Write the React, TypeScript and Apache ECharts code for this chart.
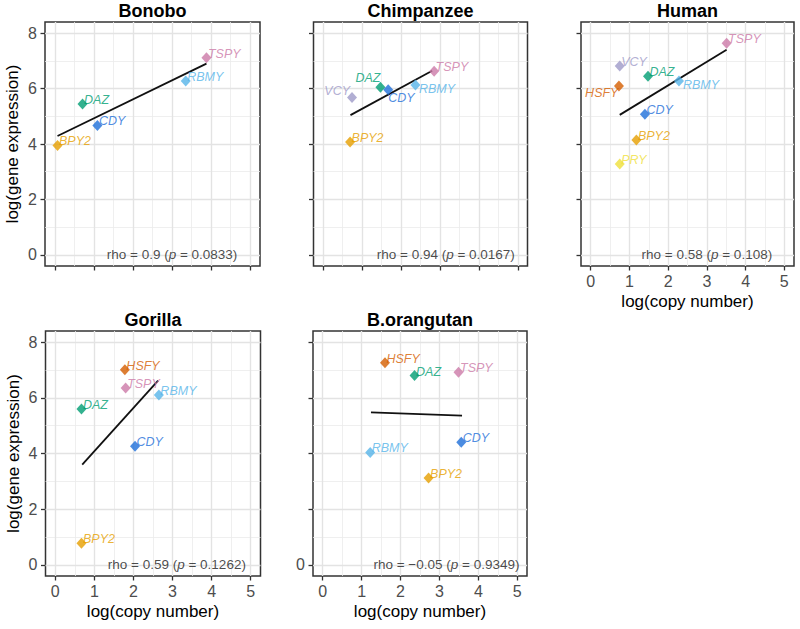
import React, { useEffect, useRef } from "react";
import * as echarts from "echarts";

// ---------- data ----------
const panelNames = ["Bonobo", "Chimpanzee", "Human", "Gorilla", "B.orangutan"];

const bonoboGenes = ["TSPY", "RBMY", "DAZ", "CDY", "BPY2"];
const bonoboCopy = [3.88, 3.35, 0.71, 1.09, 0.07];
const bonoboExpr = [7.11, 6.27, 5.44, 4.67, 3.95];
const bonoboFitX = [0.07, 3.88];
const bonoboFitY = [4.29, 6.9];

const chimpGenes = ["TSPY", "RBMY", "DAZ", "CDY", "VCY", "BPY2"];
const chimpCopy = [2.85, 2.37, 1.47, 1.67, 0.74, 0.69];
const chimpExpr = [6.62, 6.13, 6.05, 5.96, 5.68, 4.07];
const chimpFitX = [0.7, 2.8];
const chimpFitY = [5.04, 6.64];

const humanGenes = ["TSPY", "VCY", "DAZ", "RBMY", "HSFY", "CDY", "BPY2", "PRY"];
const humanCopy = [3.51, 0.75, 1.48, 2.28, 0.73, 1.4, 1.18, 0.75];
const humanExpr = [7.63, 6.81, 6.44, 6.27, 6.09, 5.07, 4.14, 3.28];
const humanFitX = [0.75, 3.51];
const humanFitY = [5.05, 7.4];

const gorillaGenes = ["HSFY", "TSPY", "RBMY", "DAZ", "CDY", "BPY2"];
const gorillaCopy = [1.78, 1.8, 2.65, 0.67, 2.04, 0.67];
const gorillaExpr = [7.01, 6.35, 6.1, 5.6, 4.26, 0.78];
const gorillaFitX = [0.69, 2.63];
const gorillaFitY = [3.6, 6.62];

const orangGenes = ["HSFY", "DAZ", "TSPY", "CDY", "RBMY", "BPY2"];
const orangCopy = [1.6, 2.36, 3.49, 3.56, 1.22, 2.72];
const orangExpr = [7.26, 6.8, 6.92, 4.4, 4.04, 3.12];
const orangFitX = [1.24, 3.58];
const orangFitY = [5.48, 5.36];

const rhoValues = ["0.9", "0.94", "0.58", "0.59", "\u22120.05"];
const pValues = ["0.0833", "0.0167", "0.108", "0.1262", "0.9349"];
const rhoLabelX = [3.0, 3.15, 3.0, 3.11, 3.18];

const xTicks = [0, 1, 2, 3, 4, 5];
const yTicks = [0, 2, 4, 6, 8];
const xMinor = [0.5, 1.5, 2.5, 3.5, 4.5];
const yMinor = [1, 3, 5, 7];

const xTitle = "log(copy number)";
const yTitle = "log(gene expression)";

// ---------- styles / layout ----------
const FONT = "'Liberation Sans', Arial, Helvetica, sans-serif";

const geneColors: Record<string, string> = {
  TSPY: "#CC79A7",
  RBMY: "#56B4E9",
  DAZ: "#009E73",
  CDY: "#1E6FD9",
  BPY2: "#E69F00",
  VCY: "#9E9AC8",
  HSFY: "#D55E00",
  PRY: "#EFE03A",
};

const layouts = [
  { left: 45, top: 22, width: 215, height: 244 },
  { left: 313.5, top: 22, width: 214, height: 244 },
  { left: 581, top: 22, width: 213, height: 244 },
  { left: 45.5, top: 331, width: 215, height: 245 },
  { left: 313, top: 331, width: 214, height: 245 },
];

const showXLabels = [false, false, true, true, true];
const yLabelValues: number[][] = [yTicks, [], [], yTicks, [0]];
const showYTitle = [true, false, false, true, false];

const defaultLabel = { position: "right", offset: [-3.5, -4] };
const labelTweaks: Record<string, { position: string; offset: number[] }> = {
  "Chimpanzee:VCY": { position: "left", offset: [3, -6] },
  "Chimpanzee:DAZ": { position: "left", offset: [5, -9] },
  "Chimpanzee:CDY": { position: "right", offset: [-5, 8] },
  "Chimpanzee:RBMY": { position: "right", offset: [-1.5, 4] },
  "Human:RBMY": { position: "right", offset: [-1, 4] },
  "Human:HSFY": { position: "left", offset: [4.5, 7] },
};

const panelData = [
  { genes: bonoboGenes, copy: bonoboCopy, expr: bonoboExpr, fx: bonoboFitX, fy: bonoboFitY },
  { genes: chimpGenes, copy: chimpCopy, expr: chimpExpr, fx: chimpFitX, fy: chimpFitY },
  { genes: humanGenes, copy: humanCopy, expr: humanExpr, fx: humanFitX, fy: humanFitY },
  { genes: gorillaGenes, copy: gorillaCopy, expr: gorillaExpr, fx: gorillaFitX, fy: gorillaFitY },
  { genes: orangGenes, copy: orangCopy, expr: orangExpr, fx: orangFitX, fy: orangFitY },
];

function buildOption() {
  const grids = layouts.map((g) => ({
    ...g,
    show: true,
    backgroundColor: "#ffffff",
    borderColor: "#333333",
    borderWidth: 1.5,
  }));

  const xAxes = layouts.map((_, i) => ({
    type: "value",
    gridIndex: i,
    min: -0.25,
    max: 5.25,
    axisLine: { show: false, onZero: false },
    axisTick: {
      show: true,
      length: 4.5,
      customValues: xTicks,
      lineStyle: { color: "#333333", width: 1.3 },
    },
    axisLabel: {
      show: showXLabels[i],
      customValues: xTicks,
      color: "#4D4D4D",
      fontSize: 16,
      fontFamily: FONT,
      margin: 7,
    },
    splitLine: { show: false },
    name: showXLabels[i] ? xTitle : "",
    nameLocation: "middle",
    nameGap: 27,
    nameTextStyle: { fontSize: 17, color: "#000000", fontFamily: FONT },
  }));

  const yAxes = layouts.map((_, i) => ({
    type: "value",
    gridIndex: i,
    min: -0.4,
    max: 8.4,
    axisLine: { show: false, onZero: false },
    axisTick: {
      show: true,
      length: 4.5,
      customValues: yTicks,
      lineStyle: { color: "#333333", width: 1.3 },
    },
    axisLabel: {
      show: yLabelValues[i].length > 0,
      customValues: yLabelValues[i].length > 0 ? yLabelValues[i] : yTicks,
      color: "#4D4D4D",
      fontSize: 16,
      fontFamily: FONT,
      margin: 8,
    },
    splitLine: { show: false },
    name: showYTitle[i] ? yTitle : "",
    nameLocation: "middle",
    nameRotate: 90,
    nameGap: 24,
    nameTextStyle: { fontSize: 17, color: "#000000", fontFamily: FONT },
  }));

  const series: any[] = [];
  panelData.forEach((pd, i) => {
    const majorStyle = { color: "#E3E3E3", width: 1.4, type: "solid" };
    const minorStyle = { color: "#EBEBEB", width: 0.8, type: "solid" };
    series.push({
      type: "line",
      xAxisIndex: i,
      yAxisIndex: i,
      data: [],
      silent: true,
      z: 1,
      zlevel: 0,
      markLine: {
        silent: true,
        z: 1,
        symbol: ["none", "none"],
        label: { show: false },
        animation: false,
        data: [
          ...xMinor.map((v) => ({ xAxis: v, lineStyle: minorStyle })),
          ...yMinor.map((v) => ({ yAxis: v, lineStyle: minorStyle })),
          ...xTicks.map((v) => ({ xAxis: v, lineStyle: majorStyle })),
          ...yTicks.map((v) => ({ yAxis: v, lineStyle: majorStyle })),
        ],
      },
    });

    series.push({
      type: "line",
      xAxisIndex: i,
      yAxisIndex: i,
      data: pd.fx.map((x, k) => [x, pd.fy[k]]),
      symbol: "none",
      silent: true,
      z: 6,
      lineStyle: { color: "#111111", width: 1.8 },
    });

    series.push({
      type: "scatter",
      xAxisIndex: i,
      yAxisIndex: i,
      symbol: "diamond",
      symbolSize: [10, 11],
      z: 7,
      data: pd.genes.map((g, k) => {
        const t = labelTweaks[panelNames[i] + ":" + g] || defaultLabel;
        return {
          name: g,
          value: [pd.copy[k], pd.expr[k]],
          itemStyle: { color: geneColors[g] },
          label: {
            show: true,
            formatter: "{b}",
            position: t.position,
            distance: 0,
            offset: t.offset,
            color: geneColors[g],
            fontStyle: "italic",
            fontSize: 12.5,
            fontFamily: FONT,
          },
        };
      }),
    });

    series.push({
      type: "scatter",
      xAxisIndex: i,
      yAxisIndex: i,
      symbolSize: 1,
      silent: true,
      z: 7,
      itemStyle: { color: "transparent" },
      data: [[rhoLabelX[i], 0]],
      label: {
        show: true,
        position: "inside",
        formatter: `{n|rho = ${rhoValues[i]} (}{i|p}{n| = ${pValues[i]})}`,
        rich: {
          n: { fontSize: 13.5, color: "#1A1A1A", fontFamily: FONT },
          i: { fontSize: 13.5, color: "#1A1A1A", fontFamily: FONT, fontStyle: "italic" },
        },
      },
    });
  });

  const graphic = layouts.map((g, i) => ({
    type: "text",
    x: g.left + g.width / 2,
    y: g.top - 11,
    style: {
      text: panelNames[i],
      align: "center",
      verticalAlign: "middle",
      fontSize: 18,
      fontWeight: "bold",
      fontFamily: FONT,
      fill: "#000000",
    },
  }));

  return {
    animation: false,
    backgroundColor: "#ffffff",
    textStyle: { fontFamily: FONT },
    grid: grids,
    xAxis: xAxes,
    yAxis: yAxes,
    series,
    graphic,
  };
}

export default function App() {
  const ref = useRef<HTMLDivElement>(null);
  useEffect(() => {
    if (!ref.current) return;
    const chart = echarts.init(ref.current, undefined, { renderer: "svg" });
    chart.setOption(buildOption() as any);
    return () => chart.dispose();
  }, []);
  return (
    <div
      ref={ref}
      style={{ position: "absolute", left: 0, top: 0, width: 800, height: 629, background: "#fff" }}
    />
  );
}
